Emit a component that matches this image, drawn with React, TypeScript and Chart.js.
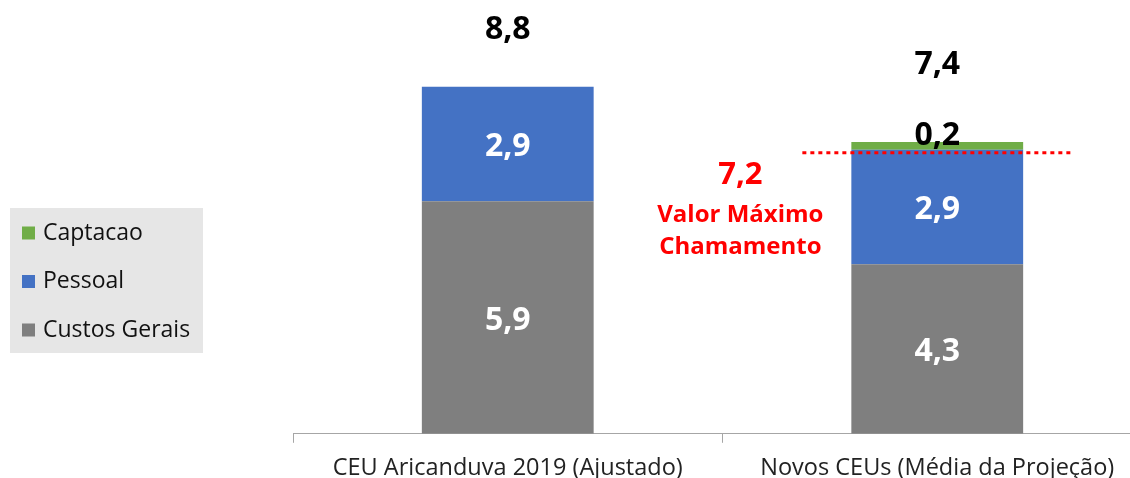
import React, { useEffect, useRef } from "react";
import { Chart, registerables } from "chart.js";

Chart.register(...registerables);

const categories = ["CEU Aricanduva 2019 (Ajustado)", "Novos CEUs (Média da Projeção)"];
const custosGerais = [5.9, 4.3];
const pessoal = [2.9, 2.9];
const captacao = [null, 0.2];
const totals = [8.8, 7.4];
const totalLabelOffsets = [57, 77];
const valorMaximo = 7.2;
const annotationLines = ["Valor Máximo", "Chamamento"];
const legendOrder = ["Captacao", "Pessoal", "Custos Gerais"];

const FONT = "'Open Sans', 'Noto Sans', sans-serif";
const fmt = (v: number) => v.toFixed(1).replace(".", ",");

const labelsPlugin = {
  id: "customLabels",
  afterDatasetsDraw(chart: any) {
    const ctx = chart.ctx;
    const xScale = chart.scales.x;
    const yScale = chart.scales.y;
    ctx.save();
    ctx.textAlign = "center";
    ctx.textBaseline = "middle";
    chart.data.datasets.forEach((ds: any, di: number) => {
      const meta = chart.getDatasetMeta(di);
      meta.data.forEach((bar: any, i: number) => {
        const v = ds.data[i];
        if (v == null) return;
        ctx.font = `bold 32px ${FONT}`;
        if (ds.label === "Captacao") {
          ctx.fillStyle = "#000000";
          ctx.fillText(fmt(v), bar.x, bar.y - 6);
        } else {
          ctx.fillStyle = "#ffffff";
          ctx.fillText(fmt(v), bar.x, (bar.y + bar.base) / 2 + 3);
        }
      });
    });
    totals.forEach((t, i) => {
      const x = xScale.getPixelForValue(i);
      const y = yScale.getPixelForValue(t) - totalLabelOffsets[i];
      ctx.fillStyle = "#000000";
      ctx.font = `bold 32px ${FONT}`;
      ctx.fillText(fmt(t), x, y);
    });
    const meta0 = chart.getDatasetMeta(0);
    const bar2 = meta0.data[1];
    const half = bar2.width / 2;
    const ly = yScale.getPixelForValue(valorMaximo) + 3;
    ctx.strokeStyle = "#ff0000";
    ctx.lineWidth = 3;
    ctx.setLineDash([4, 4]);
    ctx.beginPath();
    ctx.moveTo(bar2.x - half - 49, ly);
    ctx.lineTo(bar2.x + half + 51, ly);
    ctx.stroke();
    ctx.setLineDash([]);
    const ax = bar2.x - half - 111;
    ctx.fillStyle = "#ff0000";
    ctx.font = `bold 31px ${FONT}`;
    ctx.fillText(fmt(valorMaximo), ax, ly + 22);
    ctx.font = `bold 24px ${FONT}`;
    ctx.fillText(annotationLines[0], ax, ly + 62);
    ctx.fillText(annotationLines[1], ax, ly + 94);
    ctx.restore();
  },
  afterDraw(chart: any) {
    const ctx = chart.ctx;
    ctx.save();
    ctx.fillStyle = "#e6e6e6";
    ctx.fillRect(10, 208, 193, 145);
    const colorFor: Record<string, string> = {};
    chart.data.datasets.forEach((ds: any) => (colorFor[ds.label] = ds.backgroundColor));
    legendOrder.forEach((name, i) => {
      const cy = 233 + i * 48.5;
      ctx.fillStyle = colorFor[name];
      ctx.fillRect(22, cy - 6.5, 13, 13);
      ctx.fillStyle = "#111111";
      ctx.font = `23px ${FONT}`;
      ctx.textAlign = "left";
      ctx.textBaseline = "middle";
      ctx.fillText(name, 43, cy);
    });
    ctx.restore();
  },
};

export default function App() {
  const ref = useRef<HTMLCanvasElement>(null);
  useEffect(() => {
    if (!ref.current) return;
    const chart = new Chart(ref.current, {
      type: "bar",
      data: {
        labels: categories,
        datasets: [
          { label: "Custos Gerais", data: custosGerais, backgroundColor: "#7f7f7f" },
          { label: "Pessoal", data: pessoal, backgroundColor: "#4472c4" },
          { label: "Captacao", data: captacao as any, backgroundColor: "#70ad47" },
        ],
      },
      options: {
        animation: false,
        responsive: true,
        maintainAspectRatio: false,
        datasets: { bar: { barPercentage: 0.4, categoryPercentage: 1 } },
        layout: { padding: { left: 293, right: 0, top: 0, bottom: 2 } },
        plugins: { legend: { display: false }, tooltip: { enabled: false } },
        scales: {
          x: {
            stacked: true,
            grid: {
              display: true,
              offset: true,
              drawOnChartArea: false,
              drawTicks: true,
              tickLength: 9,
              color: "#a6a6a6",
            },
            border: { display: true, color: "#a6a6a6", width: 1 },
            ticks: { color: "#222222", font: { family: FONT, size: 23.5 }, padding: 11, maxRotation: 0 },
          },
          y: { stacked: true, display: false, min: 0, max: 11 },
        },
      },
      plugins: [labelsPlugin],
    });
    return () => chart.destroy();
  }, []);
  return (
    <div style={{ position: "fixed", left: 0, top: 0, width: 1130, height: 478, overflow: "hidden", background: "#fff" }}>
      <div style={{ width: 1152, height: 495, position: "relative" }}>
        <canvas ref={ref} />
      </div>
    </div>
  );
}
